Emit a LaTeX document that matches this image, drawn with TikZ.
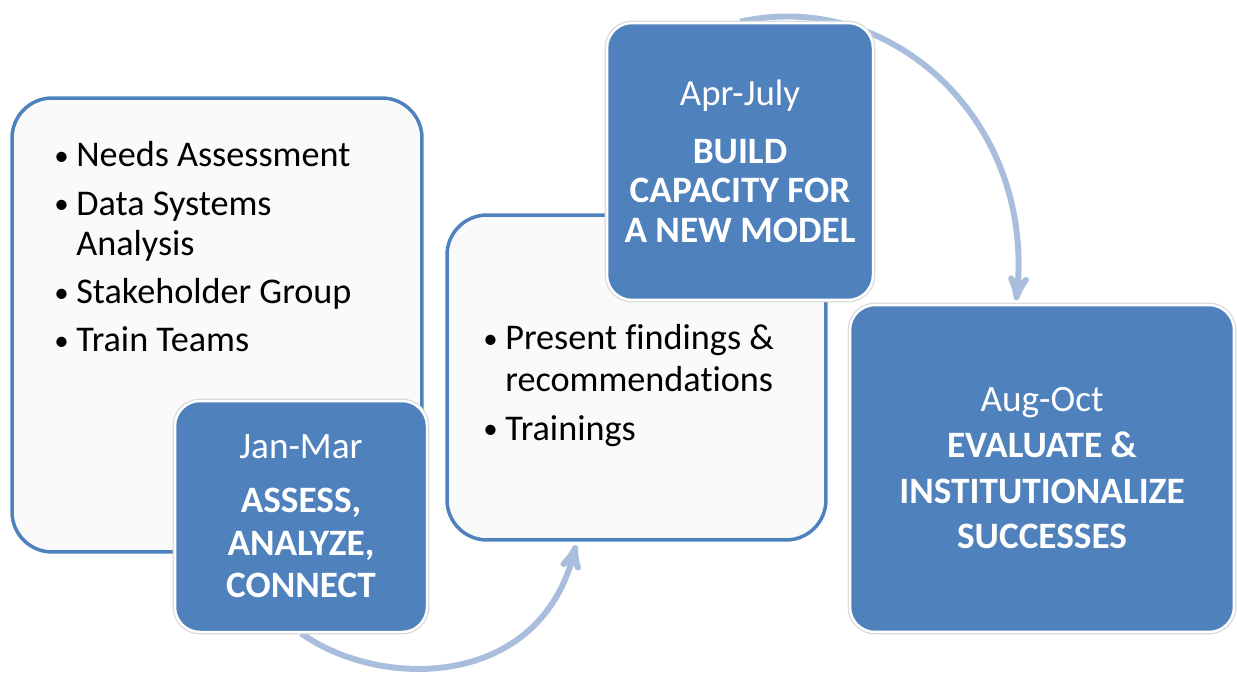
\documentclass[tikz,border=0pt]{standalone}
\usepackage{fontspec}
\setmainfont[Ligatures=NoCommon]{Carlito}
\usepackage{tikz}
\usetikzlibrary{arrows}
\usetikzlibrary{calc,backgrounds}
\definecolor{stageblue}{HTML}{4F81BD}
\definecolor{arcblue}{HTML}{A9BEDC}
\definecolor{paper}{HTML}{FAFAFA}
\tikzset{listbox/.style={draw=stageblue, line width=2pt, fill=paper, rounded corners=0.8cm, inner sep=0pt}}
\tikzset{stagebox/.style={fill=stageblue, text=white, rounded corners=0.5cm, preaction={draw=black!15, line width=2.8pt}, draw=white, line width=1.4pt, inner sep=0pt, align=center}}
\tikzset{listtext/.style={anchor=north west, inner sep=0pt, align=left, font=\fontsize{20.6}{22.7}\selectfont}}
\tikzset{cyclearrow/.style={arcblue, line width=3.4pt, ->, >=stealth', shorten >=2pt}}
\newcommand{\bul}{\makebox[0.44cm][l]{\raisebox{0.04em}{\scalebox{0.8}{\textbullet}}}}

\begin{document}
\begin{tikzpicture} [x=0.02cm, y=-0.02cm]
\useasboundingbox (0,0) rectangle (1237,675);
% first quarter
\node[listbox, minimum width=8.2cm, minimum height=9.08cm] (assessbox) at (217,325) {};
\node[listtext] (assesslist) at (54,141) {\bul Needs Assessment\\[5pt]
 \bul Data Systems\\ \hspace*{0.44cm}Analysis\\[5pt]
 \bul Stakeholder Group\\[4.5pt]
 \bul Train Teams};
\node[stagebox, minimum width=5.04cm, minimum height=4.62cm, font=\fontsize{21.2}{24.4}\selectfont] (assesslabel) at (301,516.5)
 {Jan-Mar\\[6pt] \textbf{ASSESS,}\\ \textbf{ANALYZE,}\\ \textbf{CONNECT}};
% second quarter
\node[listbox, minimum width=7.58cm, minimum height=6.5cm] (presentbox) at (636.5,377.5) {};
\node[listtext, font=\fontsize{20.6}{23.8}\selectfont] (presentlist) at (483,324) {\bul Present findings \&\\ \hspace*{0.44cm}recommendations\\[4pt]
 \bul Trainings};
\node[stagebox, minimum width=5.32cm, minimum height=5.54cm, font=\fontsize{21.2}{22.7}\selectfont] (buildlabel) at (740,161.5)
 {{\fontsize{21}{22.7}\selectfont Apr-July}\\[10pt] \textbf{BUILD}\\
 \textbf{CAPACITY FOR}\\ \textbf{A NEW MODEL}};
% last quarter
\node[stagebox, minimum width=7.68cm, minimum height=6.54cm, font=\fontsize{21.2}{26}\selectfont] (evaluatelabel) at (1042,468.5)
 {Aug-Oct\\ \textbf{EVALUATE \&}\\ \textbf{INSTITUTIONALIZE}\\ \textbf{SUCCESSES}};
% arcs between the quarters
\begin{scope}[on background layer]
\draw[cyclearrow] (assesslabel.south) .. controls (380,690) and (540,690) .. (presentbox.-110);
\draw[cyclearrow] (buildlabel.north) .. controls (890,-12) and (1035,120) .. (evaluatelabel.99);
\end{scope}
\end{tikzpicture}
\end{document}
